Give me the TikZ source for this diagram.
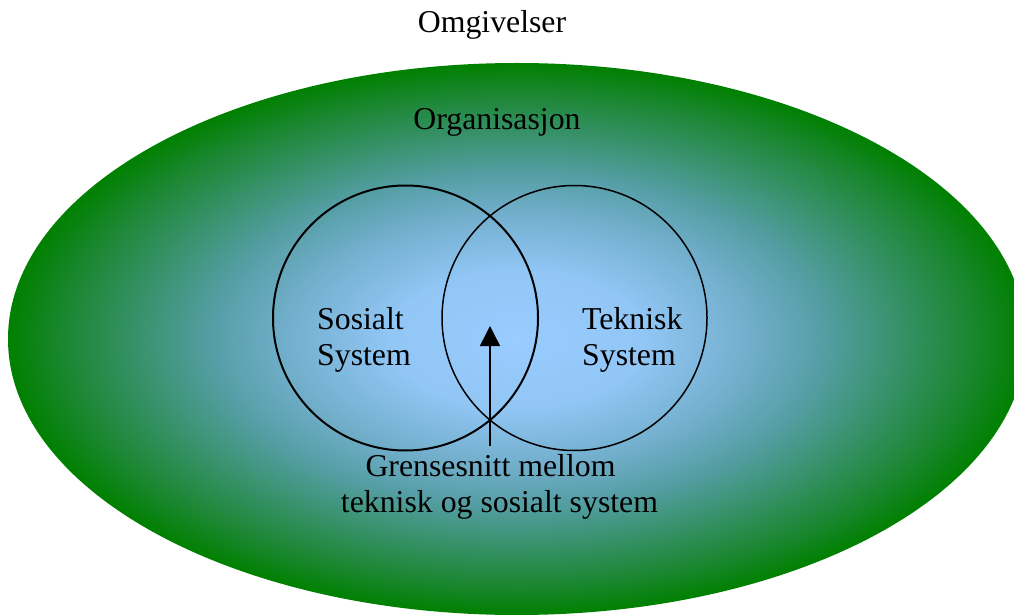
\documentclass[tikz,border=0pt]{standalone}
\usepackage{fontspec}
\setmainfont{Liberation Serif}
\usetikzlibrary{arrows.meta}

% radial fill of the organisation: light blue core fading to green rim
\pgfdeclareradialshading{orgshade}{\pgfpoint{0bp}{0bp}}{%
  rgb(0bp)=(0.600,0.800,1.000);
  rgb(6.25bp)=(0.569,0.776,0.961);
  rgb(11.25bp)=(0.451,0.686,0.804);
  rgb(15bp)=(0.333,0.620,0.647);
  rgb(18.75bp)=(0.216,0.569,0.412);
  rgb(22.5bp)=(0.098,0.525,0.176);
  rgb(25bp)=(0.000,0.502,0.000);
  rgb(50bp)=(0.000,0.502,0.000)}

\tikzset{
  lbl/.style={inner sep=0pt, font=\fontsize{31.8}{36}\selectfont},
  sysbox/.style={lbl, align=left, anchor=base west},
  syscircle/.style={draw=black, circle, minimum size=265pt, inner sep=0pt},
  pointer/.style={draw=black, line width=1.5pt, -{Triangle[width=20pt,length=20pt]}}
}

\begin{document}
\begin{tikzpicture}[x=1pt,y=1pt]
  \useasboundingbox (0,0) rectangle (1014,614);
  \clip (0,0) rectangle (1014,614);

  % organisation
  \shade[shading=orgshade] (517,275) ellipse [x radius=509, y radius=276];

  % the two subsystems
  \node[syscircle, line width=2pt] (sos) at (405.5,296) {};
  \node[syscircle, line width=1.5pt] (tek) at (574.5,296) {};

  % labels (base anchor of a two-line box sits on its last line)
  \node[lbl, anchor=base] (env) at (492,581) {Omgivelser};
  \node[lbl, anchor=base] (org) at (497,484) {Organisasjon};
  \node[sysbox] (sostxt) at (317,249) {Sosialt\\System};
  \node[sysbox] (tektxt) at (582,249) {Teknisk\\System};
  \node[lbl, anchor=base] (gl1) at (490.5,138) {Grensesnitt mellom};
  \node[lbl, anchor=base] (gl2) at (499.5,102) {teknisk og sosialt system};

  % interface pointer
  \coordinate (ifbase) at (490,168);
  \coordinate (iftip) at (490,288);
  \draw[pointer] (ifbase) -- (iftip);
\end{tikzpicture}
\end{document}
